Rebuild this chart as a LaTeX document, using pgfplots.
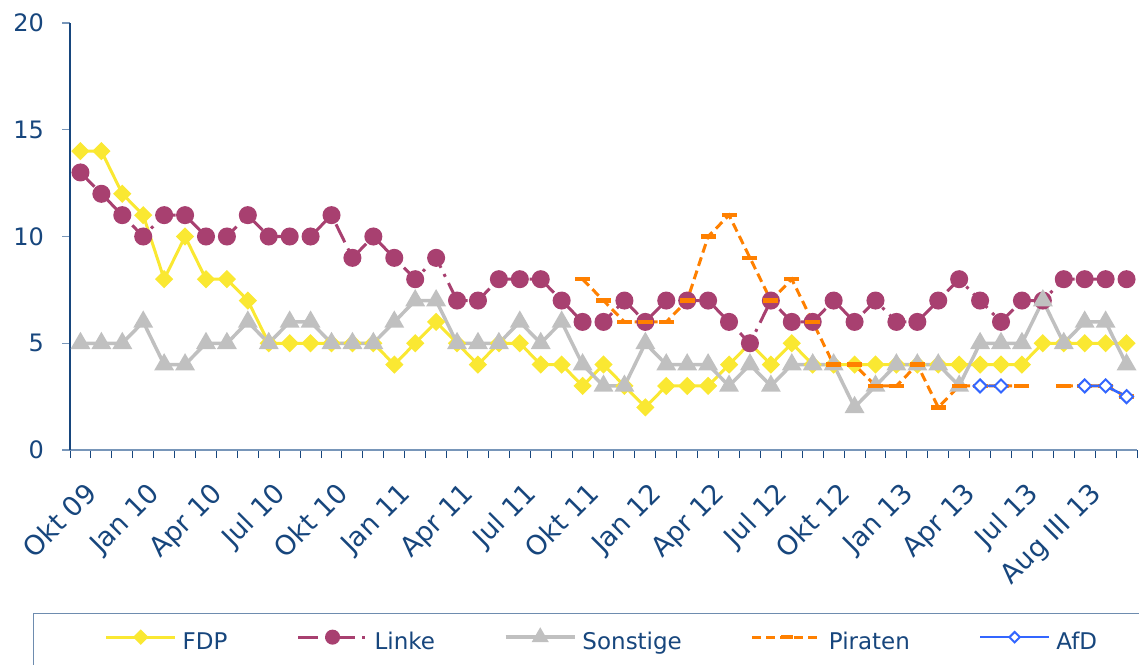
\documentclass[border=0pt]{standalone}
\usepackage{fontspec}
\setmainfont{DejaVu Sans}
\usepackage{pgfplots}
\pgfplotsset{compat=1.18}
\definecolor{navy}{RGB}{23,70,125}
\definecolor{steel}{RGB}{120,150,185}
\definecolor{legendc}{RGB}{110,140,175}
\definecolor{fdpc}{RGB}{250,232,50}
\definecolor{linkec}{RGB}{168,64,112}
\definecolor{sonstc}{RGB}{192,192,192}
\definecolor{piratc}{RGB}{255,128,0}
\definecolor{afdc}{RGB}{51,102,255}
\begin{document}
\begin{tikzpicture}[x=1pt,y=1pt]
\path[use as bounding box] (0,0) rectangle (1139,664);
\begin{axis}[
  at={(70pt,214pt)}, anchor=south west,
  scale only axis, width=1067pt, height=427pt,
  xmin=-0.5, xmax=50.5, ymin=0, ymax=20,
  clip=false,
  axis x line*=bottom, axis y line*=left,
  x axis line style={color=steel, line width=2.5pt},
  y axis line style={color=navy, line width=1.5pt},
  xtick={0,3,...,48},
  xticklabels={Okt 09,Jan 10,Apr 10,Jul 10,Okt 10,Jan 11,Apr 11,Jul 11,Okt 11,Jan 12,Apr 12,Jul 12,Okt 12,Jan 13,Apr 13,Jul 13,Aug III 13},
  minor xtick={-0.5,0.5,...,50.5},
  ytick={0,5,...,20}, minor ytick={0,5,...,20},
  major tick length=0pt, minor tick length=8pt,
  tick align=outside,
  xtick style={color=navy, line width=1pt},
  ytick style={color=steel, line width=1.5pt},
  /pgf/number format/assume math mode=true,
  xticklabel style={font=\fontsize{27}{31}\selectfont, text=navy, inner sep=0pt, text height=20pt, text depth=6pt, xshift=13pt, yshift=-40pt, rotate=45, anchor=east},
  yticklabel style={font=\fontsize{24}{28}\selectfont, text=navy, inner sep=0pt, xshift=-26pt},
  unbounded coords=jump,
  legend columns=5,
  legend style={at={(-0.03468,-0.3817)}, anchor=north west, draw=legendc, line width=1.5pt,
    inner xsep=71pt, inner ysep=17pt, font=\fontsize{23}{27}\selectfont, text=navy,
    nodes={inner sep=0pt, text height=17pt, text depth=5pt},
    column sep=6pt, /tikz/every even column/.append style={column sep=69pt},
    cells={anchor=west}},
  legend image code/.code={\draw[mark repeat=2,mark phase=2,#1,every mark/.append style={scale=0.8}] plot coordinates {(0pt,6pt) (34.5pt,6pt) (69pt,6pt)};},
]
% FDP
\addplot[color=fdpc, line width=3pt, mark=square*, mark size=4.95pt, mark options={rotate=45, solid, fill=fdpc}] coordinates {
(0,14)(1,14)(2,12)(3,11)(4,8)(5,10)(6,8)(7,8)(8,7)(9,5)(10,5)(11,5)(12,5)(13,5)(14,5)(15,4)(16,5)(17,6)(18,5)(19,4)(20,5)(21,5)(22,4)(23,4)(24,3)(25,4)(26,3)(27,2)(28,3)(29,3)(30,3)(31,4)(32,5)(33,4)(34,5)(35,4)(36,4)(37,4)(38,4)(39,4)(40,4)(41,4)(42,4)(43,4)(44,4)(45,4)(46,5)(47,5)(48,5)(49,5)(50,5)};
\addlegendentry{FDP}
% Linke
\addplot[color=linkec, line width=3pt, dash pattern=on 20pt off 7pt on 3pt off 7pt, mark=*, mark size=7.5pt, mark options={solid, fill=linkec}] coordinates {
(0,13)(1,12)(2,11)(3,10)(4,11)(5,11)(6,10)(7,10)(8,11)(9,10)(10,10)(11,10)(12,11)(13,9)(14,10)(15,9)(16,8)(17,9)(18,7)(19,7)(20,8)(21,8)(22,8)(23,7)(24,6)(25,6)(26,7)(27,6)(28,7)(29,7)(30,7)(31,6)(32,5)(33,7)(34,6)(35,6)(36,7)(37,6)(38,7)(39,6)(40,6)(41,7)(42,8)(43,7)(44,6)(45,7)(46,7)(47,8)(48,8)(49,8)(50,8)};
\addlegendentry{Linke}
% Sonstige
\addplot[color=sonstc, line width=3.5pt, mark=triangle*, mark size=8pt, mark options={solid, fill=sonstc}] coordinates {
(0,5)(1,5)(2,5)(3,6)(4,4)(5,4)(6,5)(7,5)(8,6)(9,5)(10,6)(11,6)(12,5)(13,5)(14,5)(15,6)(16,7)(17,7)(18,5)(19,5)(20,5)(21,6)(22,5)(23,6)(24,4)(25,3)(26,3)(27,5)(28,4)(29,4)(30,4)(31,3)(32,4)(33,3)(34,4)(35,4)(36,4)(37,2)(38,3)(39,4)(40,4)(41,4)(42,3)(43,5)(44,5)(45,5)(46,7)(47,5)(48,6)(49,6)(50,4)};
\addlegendentry{Sonstige}
% Piraten
\addplot[color=piratc, line width=3pt, dash pattern=on 9pt off 5pt, mark=-, mark size=7.5pt, mark options={solid, line width=4.5pt}] coordinates {
(24,8)(25,7)(26,6)(27,6)(28,6)(29,7)(30,10)(31,11)(32,9)(33,7)(34,8)(35,6)(36,4)(37,4)(38,3)(39,3)(40,4)(41,2)(42,3)(43,3)(44,3)(45,3)(46,nan)(47,3)(48,3)(49,3)(50,2.5)};
\addlegendentry{Piraten}
% AfD
\addplot[color=afdc, line width=2.5pt, mark=square*, mark size=4.6pt, mark options={rotate=45, solid, fill=white, draw=afdc, line width=2pt}] coordinates {
(43,3)(44,3)(45,nan)(48,3)(49,3)(50,2.5)};
\addlegendentry{AfD}
\end{axis}
\end{tikzpicture}
\end{document}
